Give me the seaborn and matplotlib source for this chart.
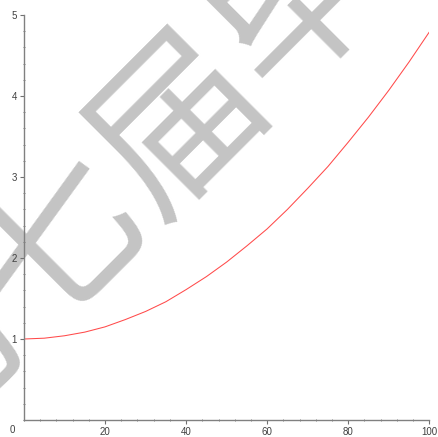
import matplotlib
matplotlib.use("Agg")
import matplotlib.pyplot as plt
from matplotlib.ticker import MultipleLocator
import seaborn as sns
import pandas as pd
import numpy as np

# curve samples
x_vals = [0, 5, 10, 15, 20, 25, 30, 35, 40, 45, 50,
          55, 60, 65, 70, 75, 80, 85, 90, 95, 100]
y_vals = [1.00, 1.01, 1.04, 1.085, 1.15, 1.24, 1.34, 1.46, 1.61, 1.77, 1.95,
          2.15, 2.36, 2.60, 2.86, 3.13, 3.43, 3.74, 4.07, 4.42, 4.79]

x_ticks = [20, 40, 60, 80, 100]
y_ticks = [1, 2, 3, 4, 5]
watermark = "第七届毕业生"

df = pd.DataFrame({"x": x_vals, "y": y_vals})

sns.set_style("ticks")
plt.rcParams["font.family"] = ["Liberation Sans", "DejaVu Sans"]

W, H = 438, 437
fig = plt.figure(figsize=(W / 100, H / 100), dpi=100)
ax = fig.add_axes([24 / W, 17 / H, 405.3 / W, 405 / H])
ax.patch.set_alpha(0)

# faint diagonal watermark behind the axes; anchor chosen so that the
# third character sits near the upper middle of the figure
wm_size = 122
em_px = wm_size * 100 / 72
cx, cy = 180, 124
shift = 2.5 * em_px / np.sqrt(2)
fig.text((cx - shift) / W, 1 - (cy + shift) / H, watermark, rotation=45,
         rotation_mode="anchor", ha="left", va="center",
         fontsize=wm_size, fontweight="medium", color="#c4c4c4", zorder=-5,
         family=["Noto Sans CJK SC", "DejaVu Sans"])

sns.lineplot(data=df, x="x", y="y", ax=ax, color="#ff4a4a", lw=0.75)

ax.set_xlim(0, 100)
ax.set_ylim(0, 5)
ax.set_xticks(x_ticks)
ax.set_yticks(y_ticks)
ax.xaxis.set_minor_locator(MultipleLocator(4))
ax.yaxis.set_minor_locator(MultipleLocator(0.2))
ax.set_xlabel("")
ax.set_ylabel("")

for side in ["top", "right"]:
    ax.spines[side].set_visible(False)
for side in ["left", "bottom"]:
    ax.spines[side].set_color("#808080")
    ax.spines[side].set_linewidth(1.0)

ax.tick_params(which="major", direction="out", length=3, width=0.8,
               color="#707070", labelsize=7, labelcolor="#404040", pad=2)
ax.tick_params(which="minor", direction="inout", length=2, width=0.6,
               color="#707070")
ax.text(-2.2, -0.06, "0", ha="right", va="top", fontsize=7, color="#404040")

fig.savefig("out.png", dpi=100)
